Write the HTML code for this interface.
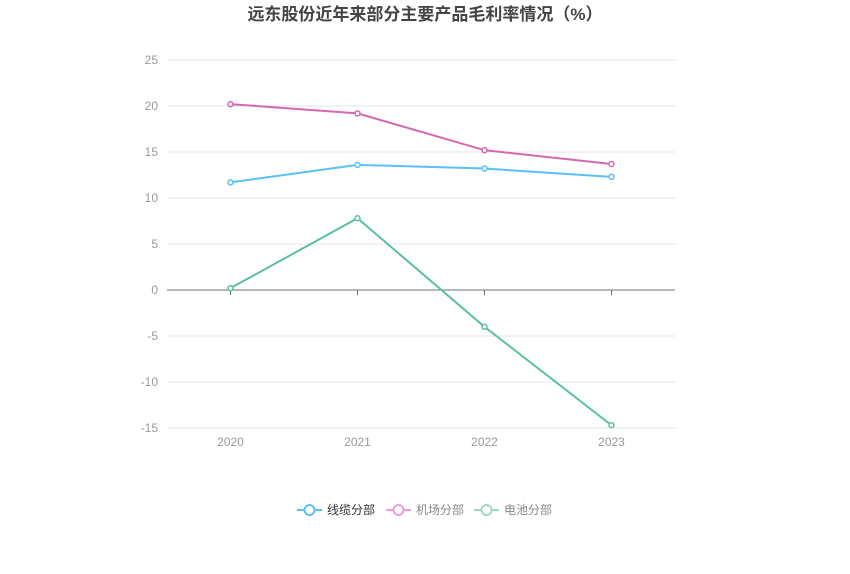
<!DOCTYPE html>
<html><head><meta charset="utf-8"><style>
body{margin:0;background:#fff;}
svg{display:block;font-family:"Liberation Sans","Noto Sans CJK SC",sans-serif;}
</style></head><body>
<svg id="chart" width="850" height="574">
<text x="425" y="20" text-anchor="middle" font-size="17" font-weight="bold" fill="#444">远东股份近年来部分主要产品毛利率情况（%）</text>
<g id="grid"></g><g id="series"></g><g id="legend"></g>
</svg>
<script>
const categories=["2020","2021","2022","2023"];
const seriesNames=["线缆分部","机场分部","电池分部"];
const cableValues=[11.7,13.6,13.2,12.3];
const airportValues=[20.2,19.2,15.2,13.7];
const batteryValues=[0.2,7.8,-4.0,-14.7];
const yTicks=[25,20,15,10,5,0,-5,-10,-15];
const colors=["#5bc0f8","#d867b2","#5cbfa0"];
const legendColors=["#5bc0f8","#ee9fd2","#9ed9c6"];
const NS="http://www.w3.org/2000/svg";
const L=167,R=675,T=60,B=428,yMax=25,yMin=-15;
const y=v=>T+(yMax-v)/(yMax-yMin)*(B-T);
const bw=(R-L)/categories.length;
const x=i=>L+bw*(i+0.5);
function mk(tag,attrs,parent){const e=document.createElementNS(NS,tag);for(const k in attrs)e.setAttribute(k,attrs[k]);parent.appendChild(e);return e;}
const grid=document.getElementById('grid');
yTicks.forEach(t=>{
  const ln=mk('line',{x1:L,x2:R,y1:y(t),y2:y(t),stroke:t===0?'#6e7079':'#e0e6f1','stroke-width':1},grid);
  
  
  const tx=mk('text',{x:L-9,y:y(t)+4,'text-anchor':'end','font-size':12,fill:'#999'},grid);
  tx.textContent=t;
  
  
});
categories.forEach((c,i)=>{
  const tk=mk('line',{x1:x(i),x2:x(i),y1:y(0),y2:y(0)+5,stroke:'#6e7079'},grid);
  
  
  const tx=mk('text',{x:x(i),y:B+18,'text-anchor':'middle','font-size':12,fill:'#999'},grid);
  tx.textContent=c;
  
  
});
const sg=document.getElementById('series');
[cableValues,airportValues,batteryValues].forEach((vals,s)=>{
  const p=mk('polyline',{points:vals.map((v,i)=>x(i)+','+y(v)).join(' '),fill:'none',stroke:colors[s],'stroke-width':2},sg);
  
  
  vals.forEach((v,i)=>{
    const c=mk('circle',{cx:x(i),cy:y(v),r:2.5,fill:'#fff',stroke:colors[s],'stroke-width':1.5},sg);
    
    
  });
});
const lg=document.getElementById('legend');
const lx=[297,386,474];
seriesNames.forEach((n,s)=>{
  const g=mk('g',{},lg);
  
  
  mk('line',{x1:lx[s],x2:lx[s]+25,y1:510,y2:510,stroke:legendColors[s],'stroke-width':2},g);
  mk('circle',{cx:lx[s]+12.5,cy:510,r:5,fill:'#fff',stroke:legendColors[s],'stroke-width':2},g);
  const t=mk('text',{x:lx[s]+30,y:514,'font-size':12,fill:s===0?'#333':'#888'},g);
  t.textContent=n;
});
</script>
</body></html>
